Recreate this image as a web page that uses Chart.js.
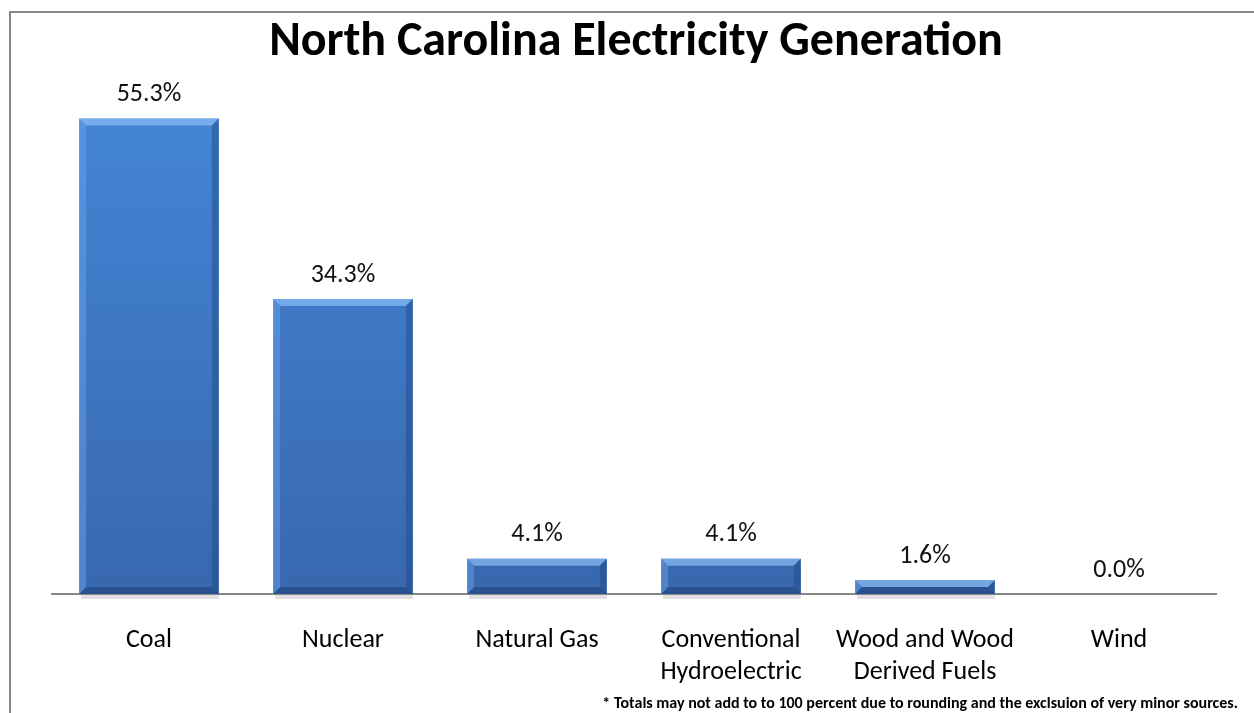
<!DOCTYPE html>
<html>
<head>
<meta charset="utf-8">
<script src="https://cdn.jsdelivr.net/npm/chart.js@4"></script>
<style>
  html, body { margin: 0; padding: 0; background: #fff; }
  #wrap { width: 1254px; height: 713px; position: relative; }
</style>
</head>
<body>
<div id="wrap"><canvas id="genChart" width="1254" height="713"></canvas></div>
<script>
const categories = ["Coal", "Nuclear", "Natural Gas", ["Conventional", "Hydroelectric"], ["Wood and Wood", "Derived Fuels"], "Wind"];
const shares = [55.3, 34.3, 4.1, 4.1, 1.6, 0.0];
const titleText = "North Carolina Electricity Generation";
const footnote = "* Totals may not add to to 100 percent due to rounding and the exclsuion of very minor sources.";
const FONT = "Carlito, Lato, 'Open Sans', sans-serif";

// frame, title, footnote
const decorPlugin = {
    id: "decor",
    beforeDraw(chart) {
        const ctx = chart.ctx;
        ctx.save();
        ctx.fillStyle = "#fff";
        ctx.fillRect(0, 0, chart.width, chart.height);
        ctx.strokeStyle = "#878787";
        ctx.lineWidth = 2;
        ctx.beginPath();
        ctx.moveTo(10, 713);
        ctx.lineTo(10, 12);
        ctx.lineTo(1254, 12);
        ctx.stroke();
        ctx.restore();
    },
    afterDraw(chart) {
        const ctx = chart.ctx;
        ctx.save();
        ctx.fillStyle = "#000";
        ctx.textAlign = "center";
        ctx.textBaseline = "middle";
        ctx.font = "bold 48px " + FONT;
        ctx.fillText(titleText, 636, 43);
        ctx.font = "bold 16px " + FONT;
        ctx.textAlign = "right";
        ctx.fillText(footnote, 1238, 704);
        ctx.restore();
    }
};

// bevel look + value labels, using the bar elements' geometry
const bevelPlugin = {
    id: "bevel",
    afterDatasetsDraw(chart) {
        const ctx = chart.ctx;
        const meta = chart.getDatasetMeta(0);
        meta.data.forEach((bar, i) => {
            const left = bar.x - bar.width / 2, right = bar.x + bar.width / 2;
            const top = bar.y, bottom = bar.base;
            const h = bottom - top;
            ctx.save();
            if (h > 1) {
                const b = Math.min(7, h / 2);
                // top bevel
                ctx.fillStyle = "rgba(140,190,245,0.7)";
                ctx.beginPath();
                ctx.moveTo(left, top); ctx.lineTo(right, top);
                ctx.lineTo(right - b, top + b); ctx.lineTo(left + b, top + b);
                ctx.closePath(); ctx.fill();
                // left bevel
                ctx.fillStyle = "rgba(110,165,235,0.45)";
                ctx.beginPath();
                ctx.moveTo(left, top); ctx.lineTo(left + b, top + b);
                ctx.lineTo(left + b, bottom - b); ctx.lineTo(left, bottom);
                ctx.closePath(); ctx.fill();
                // right bevel
                ctx.fillStyle = "rgba(30,70,130,0.45)";
                ctx.beginPath();
                ctx.moveTo(right, top); ctx.lineTo(right - b, top + b);
                ctx.lineTo(right - b, bottom - b); ctx.lineTo(right, bottom);
                ctx.closePath(); ctx.fill();
                // bottom bevel
                ctx.fillStyle = "rgba(25,60,115,0.5)";
                ctx.beginPath();
                ctx.moveTo(left, bottom); ctx.lineTo(right, bottom);
                ctx.lineTo(right - b, bottom - b); ctx.lineTo(left + b, bottom - b);
                ctx.closePath(); ctx.fill();
                // soft shadow under bar
                ctx.fillStyle = "rgba(0,0,0,0.12)";
                ctx.fillRect(left + 2, bottom + 1, bar.width - 2, 4);
            }
            ctx.fillStyle = "#111";
            ctx.font = "26px " + FONT;
            ctx.textAlign = "center";
            ctx.textBaseline = "middle";
            ctx.fillText(shares[i].toFixed(1) + "%", bar.x, top - 24);
            ctx.restore();
        });
    }
};

let chart = new Chart(document.getElementById("genChart").getContext("2d"), {
    type: "bar",
    data: {
        labels: categories,
        datasets: [{
            data: shares,
            backgroundColor: (c) => {
                const area = c.chart.chartArea;
                if (!area) return "#3f7fcf";
                const g = c.chart.ctx.createLinearGradient(0, area.top, 0, area.bottom);
                g.addColorStop(0, "#4487d8");
                g.addColorStop(1, "#3868ae");
                return g;
            },
            borderWidth: 0,
            categoryPercentage: 0.72,
            barPercentage: 1.0
        }]
    },
    options: {
        responsive: false,
        animation: false,
        layout: { padding: { top: 78, left: 52, right: 38, bottom: 0 } },
        plugins: {
            legend: { display: false },
            tooltip: { enabled: false },
            title: { display: false }
        },
        scales: {
            x: {
                grid: { display: false, drawTicks: false },
                border: { display: true, color: "#878787", width: 2 },
                ticks: {
                    color: "#000",
                    font: { family: FONT, size: 26, lineHeight: 1.25 },
                    padding: 30,
                    maxRotation: 0,
                    autoSkip: false
                },
                afterFit(scale) { scale.height = 119; }
            },
            y: {
                display: false,
                min: 0,
                max: 60
            }
        }
    },
    plugins: [decorPlugin, bevelPlugin]
});
</script>
</body>
</html>
